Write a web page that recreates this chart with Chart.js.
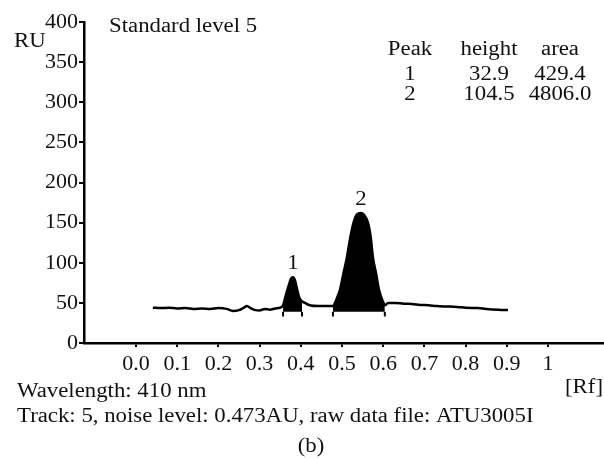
<!DOCTYPE html>
<html>
<head>
<meta charset="utf-8">
<script src="https://cdn.jsdelivr.net/npm/chart.js@4/dist/chart.umd.min.js"></script>
<style>
  html, body { margin: 0; padding: 0; background: #fff; }
  #wrap { width: 604px; height: 458px; }
</style>
</head>
<body>
<div id="wrap"><canvas id="chart" width="604" height="458"></canvas></div>
<script>
// densitogram trace
const rf = [0.041, 0.06, 0.08, 0.10, 0.12, 0.14, 0.16, 0.18, 0.20, 0.22, 0.235, 0.25, 0.262, 0.269, 0.28, 0.29, 0.30, 0.313, 0.325, 0.338, 0.35,
  0.357, 0.364, 0.371, 0.376, 0.381, 0.386, 0.391, 0.396, 0.403, 0.41, 0.422, 0.442, 0.461, 0.473,
  0.478, 0.483, 0.490, 0.495, 0.502, 0.512, 0.519, 0.527, 0.536, 0.546, 0.553, 0.563, 0.570, 0.575, 0.583, 0.590, 0.600, 0.604,
  0.612, 0.629, 0.65, 0.67, 0.69, 0.71, 0.73, 0.75, 0.78, 0.80, 0.83, 0.85, 0.88, 0.903];
const ru = [44, 43.5, 44, 43, 43.5, 42.5, 43, 42.5, 43.5, 42.5, 40, 41, 44, 46, 43, 41, 40.5, 42.5, 41.5, 43, 44,
  47, 60, 72, 80, 82, 78, 67, 57, 52, 50, 47, 46, 46, 46,
  46, 50, 59, 66, 83, 107, 128, 148, 160, 162, 160, 150, 131, 107, 86, 66, 51, 47,
  50, 50, 49, 48.5, 47.5, 47, 46, 45.5, 45, 44, 43.5, 42.5, 41.5, 41];

const yTicks = [0, 50, 100, 150, 200, 250, 300, 350, 400];
const xTicks = [0, 0.1, 0.2, 0.3, 0.4, 0.5, 0.6, 0.7, 0.8, 0.9, 1];
const xTickLabels = ['0.0', '0.1', '0.2', '0.3', '0.4', '0.5', '0.6', '0.7', '0.8', '0.9', '1'];

// integrated peaks
const peakNames = ['1', '2'];
const peakStart = [0.357, 0.478];
const peakEnd = [0.403, 0.604];
const peakHeights = ['32.9', '104.5'];
const peakAreas = ['429.4', '4806.0'];
const integrationBase = 39;

const FONT = 'Liberation Serif, "Times New Roman", serif';
const SX = 1.14; // the scan's lettering is a bit wider than Times

const trace = rf.map((x, i) => ({ x: x, y: ru[i] }));

const peakSets = peakNames.map((name, p) => ({
  data: trace.filter(pt => pt.x >= peakStart[p] && pt.x <= peakEnd[p]),
  borderColor: '#000',
  backgroundColor: '#000',
  borderWidth: 1,
  pointRadius: 0,
  cubicInterpolationMode: 'monotone',
  fill: { value: integrationBase },
  order: 2
}));

const hooks = [];
peakNames.forEach((name, p) => {
  [peakStart[p], peakEnd[p]].forEach(x => {
    hooks.push({ x: x, y: integrationBase }, { x: x, y: integrationBase - 6 }, { x: x, y: null });
  });
});

function wideText(ctx, str, x, y, align) {
  ctx.save();
  ctx.translate(x, y);
  ctx.scale(SX, 1);
  ctx.textAlign = align || 'left';
  ctx.fillText(str, 0, 0);
  ctx.restore();
}

const annotations = {
  id: 'annotations',
  afterDraw(chart) {
    const ctx = chart.ctx;
    const xs = chart.scales.x, ys = chart.scales.y;
    ctx.save();
    ctx.fillStyle = '#111';
    ctx.textBaseline = 'alphabetic';
    ctx.font = '20px ' + FONT;

    // peak numbers above apex
    peakNames.forEach((name, p) => {
      let best = null;
      trace.forEach(pt => {
        if (pt.x >= peakStart[p] && pt.x <= peakEnd[p] && (!best || pt.y > best.y)) best = pt;
      });
      wideText(ctx, name, xs.getPixelForValue(best.x), ys.getPixelForValue(best.y) - 8, 'center');
    });

    wideText(ctx, 'RU', 14, 47);
    wideText(ctx, 'Standard level 5', 109, 32);

    const cols = [410, 489, 560];
    ['Peak', 'height', 'area'].forEach((h, c) => wideText(ctx, h, cols[c], 55, 'center'));
    const rowY = [80, 100];
    peakNames.forEach((name, p) => {
      wideText(ctx, name, cols[0], rowY[p], 'center');
      wideText(ctx, peakHeights[p], cols[1], rowY[p], 'center');
      wideText(ctx, peakAreas[p], cols[2], rowY[p], 'center');
    });

    wideText(ctx, '[Rf]', 603, 393, 'right');
    wideText(ctx, 'Wavelength: 410 nm', 17, 397);
    wideText(ctx, 'Track: 5, noise level: 0.473AU, raw data file: ATU3005I', 17, 422);
    wideText(ctx, '(b)', 311, 452, 'center');
    ctx.restore();
  }
};

new Chart(document.getElementById('chart'), {
  type: 'line',
  data: {
    datasets: [
      {
        data: trace,
        borderColor: '#000',
        borderWidth: 2.5,
        pointRadius: 0,
        cubicInterpolationMode: 'monotone',
        fill: false,
        order: 1
      },
      ...peakSets,
      {
        data: hooks,
        borderColor: '#000',
        borderWidth: 2,
        pointRadius: 0,
        spanGaps: false,
        fill: false,
        order: 0
      }
    ]
  },
  options: {
    responsive: false,
    animation: false,
    events: [],
    layout: { padding: { left: 0, top: 22, right: 0, bottom: 85 } },
    plugins: { legend: { display: false }, tooltip: { enabled: false } },
    scales: {
      x: {
        type: 'linear',
        min: -0.1262,
        max: 1.136,
        afterBuildTicks: scale => { scale.ticks = xTicks.map(v => ({ value: v })); },
        afterFit: scale => { scale.height = 30; },
        ticks: {
          callback: (v, i) => xTickLabels[i],
          color: '#111',
          font: { family: FONT, size: 22 },
          padding: 4,
          maxRotation: 0,
          autoSkip: false
        },
        grid: { drawOnChartArea: false, color: '#000', lineWidth: 2, tickLength: 4 },
        border: { color: '#000', width: 2.5 }
      },
      y: {
        min: 0,
        max: 400,
        afterBuildTicks: scale => { scale.ticks = yTicks.map(v => ({ value: v })); },
        afterFit: scale => { scale.width = 84; },
        ticks: {
          color: '#111',
          font: { family: FONT, size: 22 },
          padding: 1
        },
        grid: { drawOnChartArea: false, color: '#000', lineWidth: 2, tickLength: 5 },
        border: { color: '#000', width: 2.5 }
      }
    }
  },
  plugins: [annotations]
});
</script>
</body>
</html>
